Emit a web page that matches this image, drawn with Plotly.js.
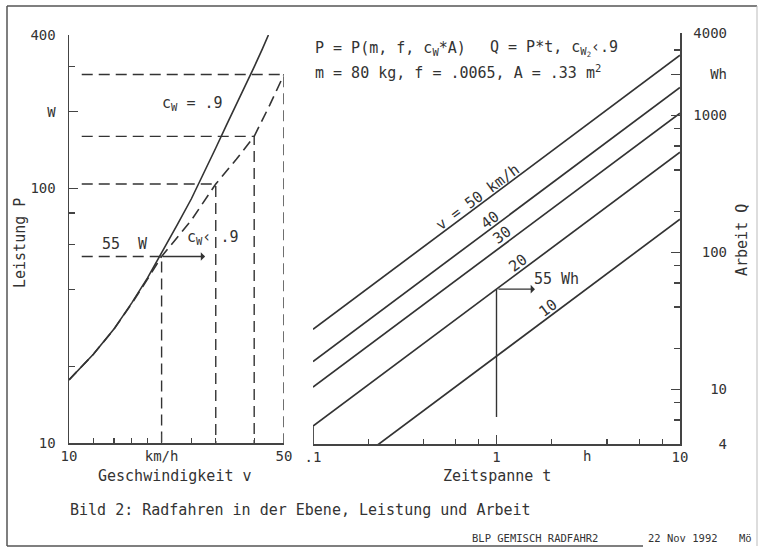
<!DOCTYPE html>
<html>
<head>
<meta charset="utf-8">
<script src="https://cdn.plot.ly/plotly-3.0.1.min.js"></script>
<style>
  body { margin: 0; background: #fff; }
  #plot { width: 760px; height: 548px; }
</style>
</head>
<body>
<div id="plot"></div>
<script>
// left panel: Leistung P over Geschwindigkeit v
var speedSolid = [10, 12, 14, 16, 18, 20, 22.5, 25, 27.5, 30, 32.5, 35, 37.5, 40, 42.5, 44.5];
var powerSolid = [17.7, 22.3, 28, 35.5, 44.5, 55.5, 72, 91, 115, 144, 177, 213, 254, 300, 352, 400];
var speedDashed = [10, 12, 14, 16, 18, 20, 25, 30, 35, 40, 45, 50];
var powerDashed = [17.7, 22.3, 28, 35.3, 44, 54, 75, 104, 130, 160, 213, 280];
var guideSpeed = [20, 30, 40, 50];
var guidePower = [54, 104, 160, 280];
var guideStart = 11;

// right panel: Arbeit Q over Zeitspanne t
var lineSpeeds = [10, 20, 30, 40, 50];
var tStart = 0.1, tEnd = 10;
var qStart = [1.75, 5.4, 10.4, 16, 27.5];
var qEnd = [175, 540, 1040, 1600, 2750];
var markT = 1, markQ = 54, markQlow = 6.3;

var ink = '#333';
var mono = 'DejaVu Sans Mono, monospace';
var W = 760, H = 548;
function px(x) { return x / W; }
function py(y) { return 1 - y / H; }

var data = [];
data.push({x: speedSolid, y: powerSolid, xaxis: 'x', yaxis: 'y', mode: 'lines',
  line: {color: ink, width: 1.6}});
data.push({x: speedDashed, y: powerDashed, xaxis: 'x', yaxis: 'y', mode: 'lines',
  line: {color: ink, width: 1.6, dash: '11px,6px'}});
guideSpeed.forEach(function(v, i) {
  data.push({x: [guideStart, v, v], y: [guidePower[i], guidePower[i], 10],
    xaxis: 'x', yaxis: 'y', mode: 'lines',
    line: {color: ink, width: 1.4, dash: '11px,6px'}});
});

lineSpeeds.forEach(function(v, i) {
  data.push({x: [tStart, tEnd], y: [qStart[i], qEnd[i]], xaxis: 'x2', yaxis: 'y2',
    mode: 'lines', line: {color: ink, width: 1.7}});
});
data.push({x: [tStart, tStart], y: [4, qStart[1]], xaxis: 'x2', yaxis: 'y2',
  mode: 'lines', line: {color: ink, width: 1.7}});
data.push({x: [markT, markT], y: [markQ, markQlow], xaxis: 'x2', yaxis: 'y2',
  mode: 'lines', line: {color: ink, width: 1.4}});

var axisCommon = {
  type: 'log', showgrid: false, zeroline: false, showline: true,
  linecolor: '#444', linewidth: 1.5, ticks: 'inside', ticklen: 9, tickwidth: 1.3,
  tickcolor: '#444', tickmode: 'array', tickfont: {family: mono, size: 14, color: ink},
  fixedrange: true
};
function ax(extra) { return Object.assign({}, axisCommon, extra); }

function note(text, x, y, opts) {
  return Object.assign({xref: 'paper', yref: 'paper', x: px(x), y: py(y), text: text,
    showarrow: false, xanchor: 'left', yanchor: 'middle',
    font: {family: mono, size: 15, color: ink}}, opts || {});
}
var ang = -36.6;
var sp = '\u00a0';

var layout = {
  width: W, height: H, showlegend: false,
  paper_bgcolor: '#fff', plot_bgcolor: '#fff',
  margin: {l: 0, r: 0, t: 0, b: 0},
  xaxis: ax({domain: [px(69), px(284)], range: [1, Math.log10(50)], anchor: 'y',
    tickvals: [10, 20, 50], ticktext: ['10', 'km/h', '50'], ticklabelstandoff: 0,
    minor: {tickmode: 'array', tickvals: [12, 14, 16, 18, 25, 30, 40], ticks: 'inside', ticklen: 5, tickcolor: '#444'}}),
  yaxis: ax({domain: [py(443), py(35)], range: [1, Math.log10(400)], anchor: 'x',
    tickvals: [10, 100, 200, 400], ticktext: ['10', '100', 'W', '400'], ticklabelstandoff: 9,
    minor: {tickmode: 'array', tickvals: [20, 40, 60, 80, 300], ticks: 'inside', ticklen: 6, tickcolor: '#444'}}),
  xaxis2: ax({domain: [px(313), px(680)], range: [-1, 1], anchor: 'y2',
    tickvals: [0.1, 1, 10], ticktext: ['.1', '1', '10'], ticklabelstandoff: 0,
    minor: {tickmode: 'array', tickvals: [0.2, 0.4, 0.6, 0.8, 2, 4, 6, 8], ticks: 'inside', ticklen: 5, tickcolor: '#444'}}),
  yaxis2: ax({domain: [py(444), py(33)], range: [Math.log10(4), Math.log10(4000)], anchor: 'x2',
    side: 'right', ticklabelstandoff: 9,
    tickvals: [4, 10, 100, 1000, 2000, 4000],
    ticktext: [sp + sp + sp + '4', sp + sp + '10', sp + '100', '1000', sp + sp + 'Wh', '4000'],
    minor: {tickmode: 'array', tickvals: [6, 8, 20, 40, 60, 80, 200, 400, 600, 800, 3000], ticks: 'inside', ticklen: 6, tickcolor: '#444'}}),
  annotations: [
    note('Leistung P', 20, 243, {xanchor: 'center', textangle: -90}),
    note('Geschwindigkeit v', 175, 476, {xanchor: 'center'}),
    note('Zeitspanne t', 497, 476, {xanchor: 'center'}),
    note('Arbeit Q', 742, 240, {xanchor: 'center', textangle: -90}),
    note('h', 587, 456, {xanchor: 'center', font: {family: mono, size: 14, color: ink}}),
    note('c<sub>W</sub> = .9', 160, 103),
    note('55  W', 100, 244),
    note('c<sub>W</sub>\u2039 .9', 185, 238),
    note('P = P(m, f, c<sub>W</sub>*A)', 313, 48),
    note('Q = P*t, c<sub>W<sub>2</sub></sub>\u2039.9', 488, 48),
    note('m = 80 kg, f = .0065, A = .33 m<sup>2</sup>', 313, 72),
    note('v = 50 km/h', 478, 197, {xanchor: 'center', textangle: ang}),
    note('40', 490, 220, {xanchor: 'center', textangle: ang}),
    note('30', 502, 235, {xanchor: 'center', textangle: ang}),
    note('20', 518, 263, {xanchor: 'center', textangle: ang}),
    note('10', 548, 308, {xanchor: 'center', textangle: ang}),
    note('55 Wh', 532, 279),
    note('Bild 2: Radfahren in der Ebene, Leistung und Arbeit', 68, 510),
    note('BLP GEMISCH RADFAHR2', 470, 538, {font: {family: mono, size: 10.5, color: ink}}),
    note('22 Nov 1992', 646, 538, {font: {family: mono, size: 10.5, color: ink}}),
    note('M\u00f6', 737, 538, {font: {family: mono, size: 10.5, color: ink}}),
    {xref: 'x', yref: 'y', x: Math.log10(27.7), y: Math.log10(54), ax: -44, ay: 0,
      text: '', showarrow: true, arrowhead: 1, arrowsize: 1.1, arrowwidth: 1.3, arrowcolor: ink},
    {xref: 'x2', yref: 'y2', x: Math.log10(1.62), y: Math.log10(markQ), ax: -38, ay: 0,
      text: '', showarrow: true, arrowhead: 1, arrowsize: 1.1, arrowwidth: 1.3, arrowcolor: ink}
  ],
  shapes: [
    {type: 'line', xref: 'paper', yref: 'paper', x0: px(7), x1: px(757), y0: py(6), y1: py(6), line: {color: '#555', width: 1.5}},
    {type: 'line', xref: 'paper', yref: 'paper', x0: px(7), x1: px(7), y0: py(6), y1: py(546), line: {color: '#555', width: 1.5}},
    {type: 'line', xref: 'paper', yref: 'paper', x0: px(7), x1: px(643), y0: py(546), y1: py(546), line: {color: '#555', width: 1.5}},
    {type: 'line', xref: 'paper', yref: 'paper', x0: px(757), x1: px(757), y0: py(6), y1: py(546), line: {color: '#bbb', width: 1}}
  ]
};

Plotly.newPlot('plot', data, layout, {staticPlot: true, displayModeBar: false});
</script>
</body>
</html>
